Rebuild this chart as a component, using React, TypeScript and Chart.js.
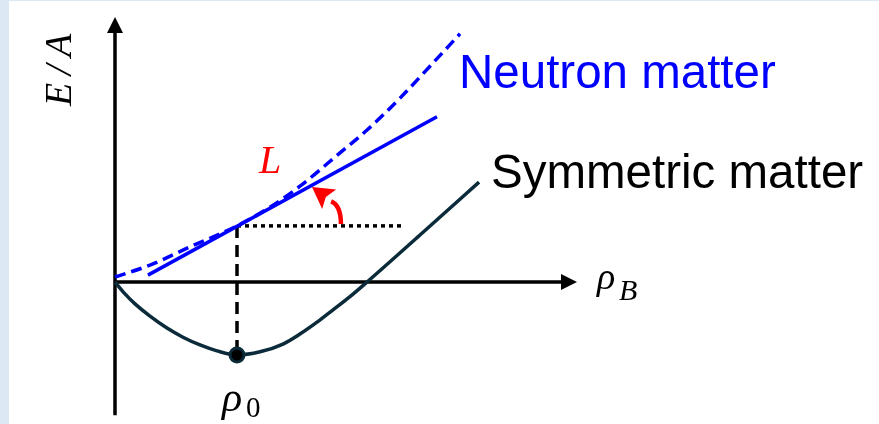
import React, { useEffect, useRef } from "react";
import { Chart, registerables } from "chart.js";

Chart.register(...registerables);

const W = 879;
const H = 424;

// Density in units of the saturation density, energy per nucleon in MeV.
const symmetricRho = [0, 0.082, 0.164, 0.287, 0.426, 0.557, 0.697, 0.836, 1.0, 1.189, 1.377, 1.516, 1.656, 1.787, 1.926, 2.066, 2.5, 2.984];
const symmetricE = [0, -2.6, -4.8, -7.5, -10.1, -12.1, -13.8, -15.1, -16.0, -15.3, -13.6, -11.4, -8.8, -6.1, -3.2, 0, 10.3, 21.9];

const neutronRho = [0, 0.287, 0.615, 1.0, 1.27, 1.516, 1.844, 2.066, 2.336, 2.582, 2.828];
const neutronE = [1.1, 3.7, 7.7, 12.3, 16.4, 21.0, 28.3, 33.3, 40.3, 47.3, 54.4];

// Tangent to the neutron-matter curve at saturation density (slope L).
const slopeRho = [0.27, 2.639];
const slopeE = [1.5, 36.2];

const saturationRho = 1.0;
const saturationE = -16.0;
const neutronAtSaturation = 12.3;
const referenceEndRho = 2.352;

// Angle marker from the horizontal reference to the tangent.
const markerStart = { rho: 1.852, e: 12.7 };
const markerTip = { rho: 1.615, e: 20.8 };

// Axis extents.
const axisEndRho = 3.787;
const axisTopE = 58.1;
const axisBottomE = -29.2;

const neutronLabel = "Neutron matter";
const symmetricLabel = "Symmetric matter";
const slopeLabel = "L";
const yAxisLabel = "E\u2009/\u2009A";
const densitySymbol = "ρ";
const xAxisSub = "B";
const saturationSub = "0";

const pts = (xs: number[], ys: number[]) => xs.map((x, i) => ({ x, y: ys[i] }));

const diagramPlugin = {
  id: "diagram",
  beforeDraw(chart: any) {
    const ctx = chart.ctx as CanvasRenderingContext2D;
    ctx.save();
    ctx.fillStyle = "#ffffff";
    ctx.fillRect(0, 0, W, H);
    ctx.fillStyle = "#dde8f5";
    ctx.fillRect(0, 0, 9, H);
    ctx.fillRect(0, 0, W, 1);
    ctx.restore();
  },
  beforeDatasetsDraw(chart: any) {
    const ctx = chart.ctx as CanvasRenderingContext2D;
    const xs = chart.scales.x;
    const ys = chart.scales.y;
    const ox = xs.getPixelForValue(0);
    const oy = ys.getPixelForValue(0);
    const xEnd = xs.getPixelForValue(axisEndRho);
    const yTop = ys.getPixelForValue(axisTopE);
    const yBottom = ys.getPixelForValue(axisBottomE);
    ctx.save();
    ctx.strokeStyle = "#000";
    ctx.fillStyle = "#000";
    ctx.lineWidth = 3.5;
    ctx.beginPath();
    ctx.moveTo(ox, yBottom);
    ctx.lineTo(ox, yTop + 14);
    ctx.moveTo(ox - 1.5, oy);
    ctx.lineTo(xEnd - 14, oy);
    ctx.stroke();
    ctx.beginPath();
    ctx.moveTo(ox, yTop);
    ctx.lineTo(ox - 8, yTop + 16);
    ctx.lineTo(ox + 8, yTop + 16);
    ctx.closePath();
    ctx.fill();
    ctx.beginPath();
    ctx.moveTo(xEnd, oy);
    ctx.lineTo(xEnd - 16, oy - 8);
    ctx.lineTo(xEnd - 16, oy + 8);
    ctx.closePath();
    ctx.fill();
    ctx.restore();
  },
  afterDatasetsDraw(chart: any) {
    const ctx = chart.ctx as CanvasRenderingContext2D;
    const xs = chart.scales.x;
    const ys = chart.scales.y;

    // curved arrow for the slope L
    const sx = xs.getPixelForValue(markerStart.rho);
    const sy = ys.getPixelForValue(markerStart.e);
    const tx = xs.getPixelForValue(markerTip.rho);
    const ty = ys.getPixelForValue(markerTip.e);
    let dx = -14;
    let dy = -10;
    const len = Math.hypot(dx, dy);
    dx /= len;
    dy /= len;
    const headLen = 21;
    const half = 12;
    const bx = tx - dx * headLen;
    const by = ty - dy * headLen;
    const nx = -dy;
    const ny = dx;
    ctx.save();
    ctx.strokeStyle = "#ff0000";
    ctx.fillStyle = "#ff0000";
    ctx.lineWidth = 4.5;
    ctx.beginPath();
    ctx.moveTo(sx, sy);
    ctx.quadraticCurveTo(sx, by + 6, bx + 2, by + 2);
    ctx.stroke();
    ctx.beginPath();
    ctx.moveTo(tx, ty);
    ctx.lineTo(bx + nx * half, by + ny * half);
    ctx.lineTo(bx + dx * 4, by + dy * 4);
    ctx.lineTo(bx - nx * half, by - ny * half);
    ctx.closePath();
    ctx.fill();
    ctx.restore();
  },
  afterDraw(chart: any) {
    const ctx = chart.ctx as CanvasRenderingContext2D;
    const xs = chart.scales.x;
    const ox = xs.getPixelForValue(0);
    const rx = xs.getPixelForValue(saturationRho);
    ctx.save();
    ctx.textBaseline = "alphabetic";
    ctx.textAlign = "left";

    ctx.font = "47.5px 'Liberation Sans', Arial, sans-serif";
    ctx.fillStyle = "#0000ff";
    ctx.fillText(neutronLabel, 459, 88);
    ctx.fillStyle = "#000000";
    ctx.fillText(symmetricLabel, 491, 188);

    ctx.font = "italic 40px 'Liberation Serif', serif";
    ctx.fillStyle = "#ff0000";
    ctx.fillText(slopeLabel, 259, 173);

    ctx.fillStyle = "#000000";
    ctx.save();
    ctx.translate(ox - 44, 70);
    ctx.rotate(-Math.PI / 2);
    ctx.textAlign = "center";
    ctx.font = "italic 38px 'Liberation Serif', serif";
    ctx.fillText(yAxisLabel, 0, 0);
    ctx.restore();

    ctx.font = "italic 38px 'Liberation Serif', serif";
    ctx.fillText(densitySymbol, 597, 289);
    ctx.font = "italic 30px 'Liberation Serif', serif";
    ctx.fillText(xAxisSub, 619, 300);

    ctx.font = "italic 42px 'Liberation Serif', serif";
    ctx.fillText(densitySymbol, rx - 15, 411);
    ctx.font = "29px 'Liberation Serif', serif";
    ctx.fillText(saturationSub, rx + 9, 417);
    ctx.restore();
  },
};

export default function App() {
  const ref = useRef<HTMLCanvasElement | null>(null);

  useEffect(() => {
    if (!ref.current) return;
    const chart = new Chart(ref.current, {
      type: "scatter",
      data: {
        datasets: [
          {
            data: [{ x: saturationRho, y: saturationE }],
            pointRadius: 7,
            pointBorderWidth: 3,
            pointBackgroundColor: "#000000",
            pointBorderColor: "#0b2a3a",
            showLine: false,
          },
          {
            data: pts(symmetricRho, symmetricE),
            showLine: true,
            borderColor: "#0b2a3a",
            borderWidth: 3.5,
            pointRadius: 0,
            cubicInterpolationMode: "monotone",
          },
          {
            data: pts(neutronRho, neutronE),
            showLine: true,
            borderColor: "#0000ff",
            borderWidth: 3.5,
            borderDash: [11, 6],
            pointRadius: 0,
            cubicInterpolationMode: "monotone",
          },
          {
            data: pts(slopeRho, slopeE),
            showLine: true,
            borderColor: "#0000ff",
            borderWidth: 3.5,
            pointRadius: 0,
          },
          {
            data: [
              { x: saturationRho, y: neutronAtSaturation },
              { x: referenceEndRho, y: neutronAtSaturation },
            ],
            showLine: true,
            borderColor: "#000000",
            borderWidth: 3.5,
            borderDash: [4, 4],
            pointRadius: 0,
          },
          {
            data: [
              { x: saturationRho, y: neutronAtSaturation },
              { x: saturationRho, y: saturationE },
            ],
            showLine: true,
            borderColor: "#000000",
            borderWidth: 3.5,
            borderDash: [12, 7],
            pointRadius: 0,
          },
        ],
      },
      options: {
        animation: false,
        responsive: false,
        events: [],
        layout: { padding: 0, autoPadding: false },
        plugins: { legend: { display: false }, tooltip: { enabled: false } },
        scales: {
          x: { type: "linear", display: false, min: -115 / 122, max: (W - 115) / 122 },
          y: { type: "linear", display: false, min: -(H - 282) / 4.5625, max: 282 / 4.5625 },
        },
      },
      plugins: [diagramPlugin],
    });
    return () => chart.destroy();
  }, []);

  return (
    <div style={{ position: "fixed", left: 0, top: 0, width: W, height: H }}>
      <canvas ref={ref} width={W} height={H} style={{ display: "block" }} />
    </div>
  );
}
